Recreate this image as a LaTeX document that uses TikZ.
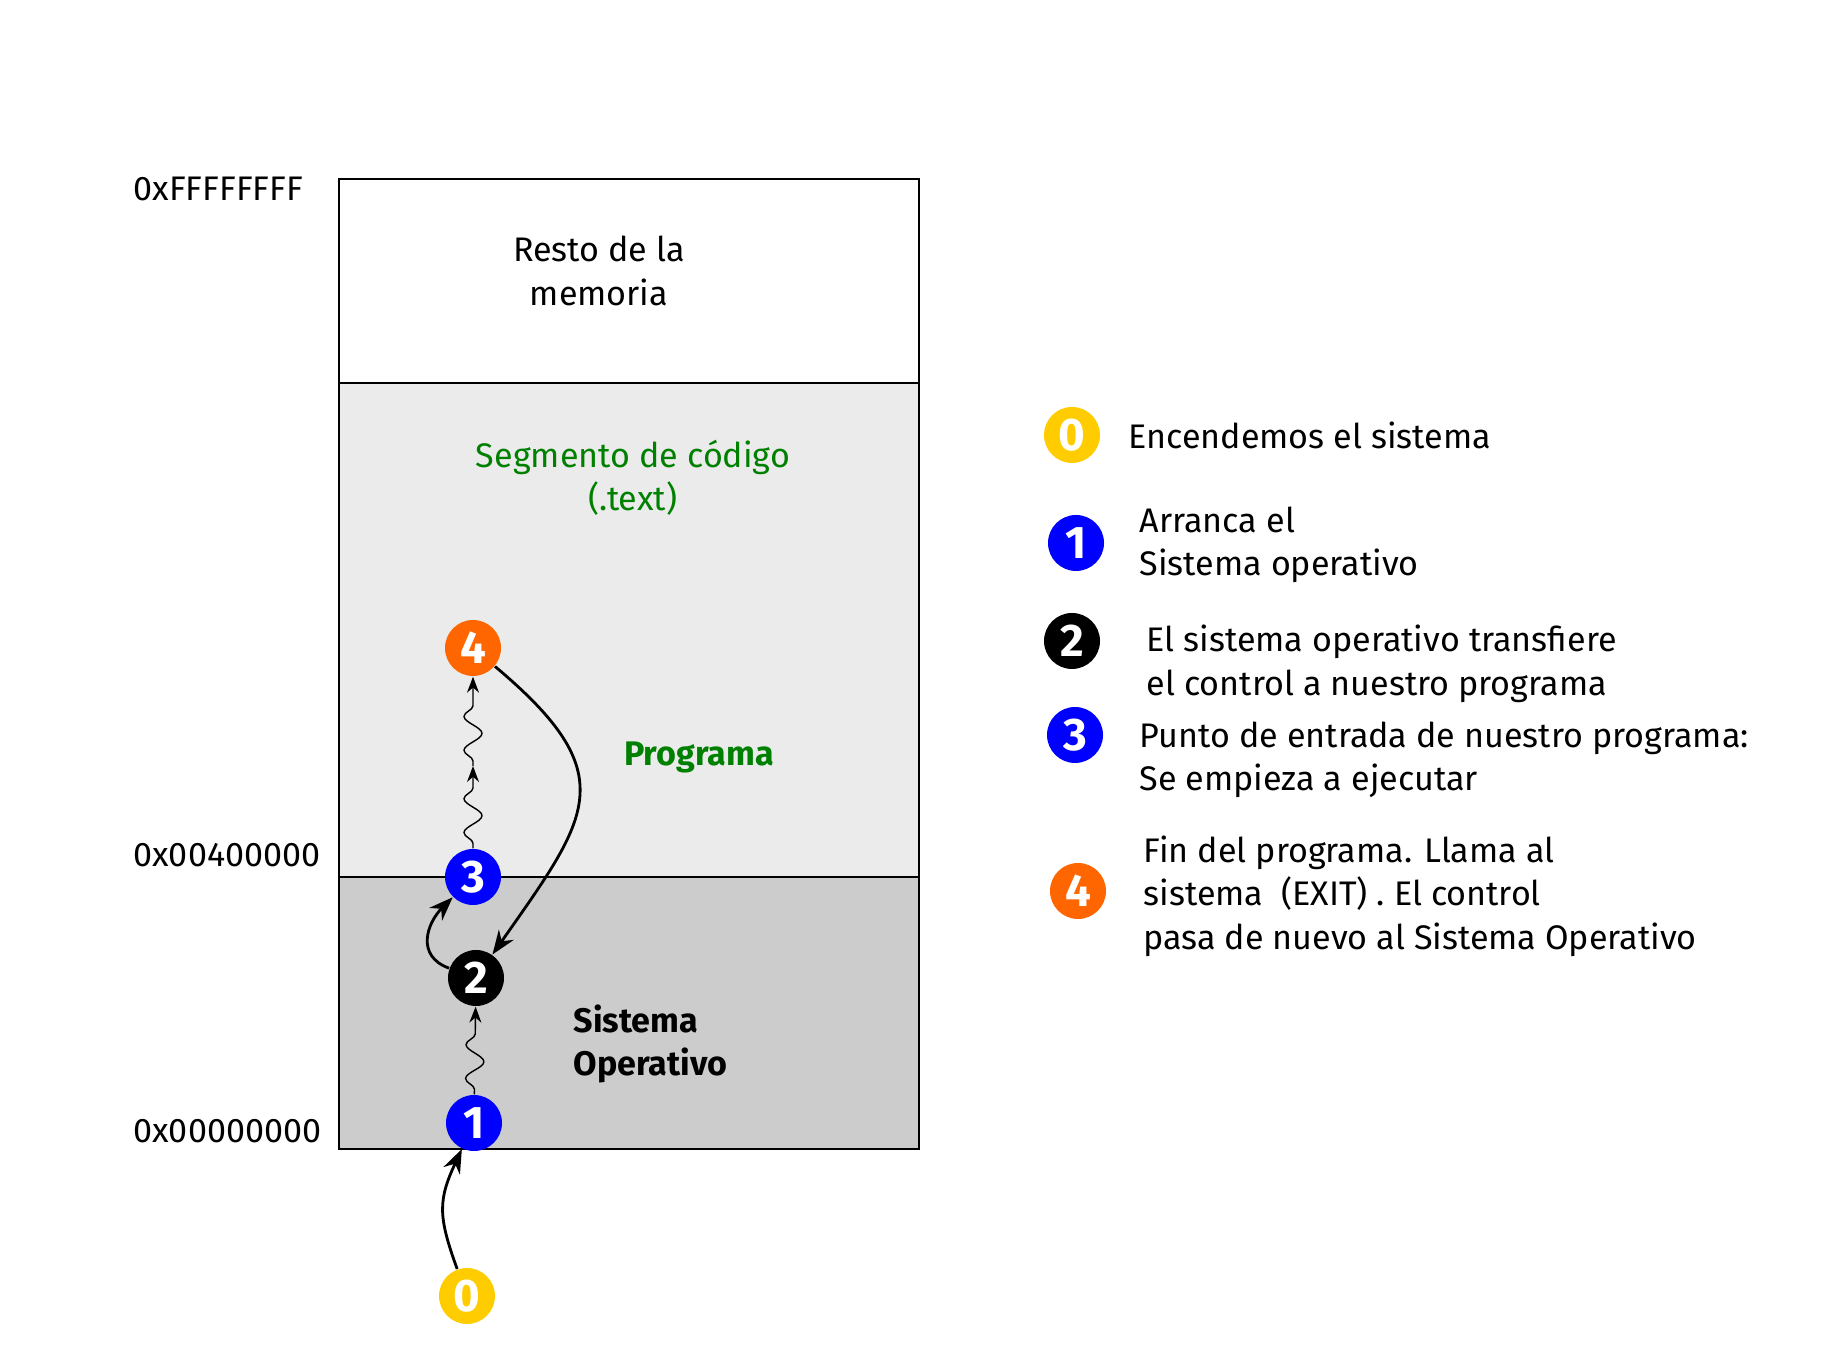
\documentclass[tikz,border=0pt]{standalone}
\usepackage{fontspec}
\setmainfont{Fira Sans}
\usetikzlibrary{arrows.meta}
\usetikzlibrary{decorations.pathmorphing}
\definecolor{codegreen}{RGB}{0,128,0}
\definecolor{segfill}{RGB}{235,235,235}
\definecolor{sofill}{RGB}{204,204,204}
\definecolor{stepyellow}{RGB}{255,204,0}
\definecolor{steporange}{RGB}{255,102,0}

\begin{document}
\begin{tikzpicture}[
        num/.style={circle, minimum size=5.6mm, inner sep=0pt, text=white, font=\fontsize{13}{13}\selectfont\bfseries},
        wave/.style={-{Stealth[length=1.6mm,width=1.2mm]}, line width=0.4pt, decorate,
            decoration={snake, amplitude=0.9mm, segment length=3.4mm, pre length=0.5mm, post length=1.5mm}},
        jump/.style={-{Stealth[length=2.4mm,width=1.8mm]}, line width=0.8pt},
        note/.style={anchor=west, align=left, inner xsep=0pt, font=\fontsize{9.7}{12.4}\selectfont},
        addr/.style={anchor=west, inner xsep=0pt, font=\fontsize{9.7}{12.4}\selectfont}
    ]
                \useasboundingbox (0,0) rectangle (18.48,13.63);
                % memory
                \fill[segfill] (3.39,4.86) rectangle (9.19,9.80);
                \fill[sofill]  (3.39,2.14) rectangle (9.19,4.86);
                \draw[line width=0.6pt] (3.39,2.14) rectangle (9.19,11.84);
                \draw[line width=0.6pt] (3.39,9.80) -- (9.19,9.80);
                \draw[line width=0.6pt] (3.39,4.86) -- (9.19,4.86);
                % addresses
                \node[addr] (addrtop) at (1.33,11.74) {0xFFFFFFFF};
                \node[addr] (addrmid) at (1.33,5.08) {0x00400000};
                \node[addr] (addrbot) at (1.33,2.32) {0x00000000};
                % regions
                \node[note, anchor=center, align=center] (resto) at (5.99,10.92) {Resto de la\\memoria};
                \node[note, anchor=center, align=center, text=codegreen] (segmento) at (6.33,8.85) {Segmento de código\\(.text)};
                \node[note, anchor=center, text=codegreen, font=\fontsize{9.7}{12.4}\selectfont\bfseries] (programa) at (6.99,6.06) {Programa};
                \node[note, font=\fontsize{9.7}{12.4}\selectfont\bfseries] (sisop) at (5.73,3.19) {Sistema\\Operativo};
                % steps
                \node[num, fill=stepyellow]  (c0) at (4.67,0.67) {0};
                \node[num, fill=blue]        (c1) at (4.74,2.40) {1};
                \node[num, fill=black]       (c2) at (4.76,3.85) {2};
                \node[num, fill=blue]        (c3) at (4.73,4.86) {3};
                \node[num, fill=steporange]  (c4) at (4.73,7.15) {4};
                \coordinate (m34) at (4.73,5.97);
                % flow
                \draw[jump] (c0) to[out=110, in=245, looseness=1.2] (c1);
                \draw[wave] (c1) -- (c2);
                \draw[jump] (c2) to[out=160, in=225, looseness=1.3] (c3);
                \draw[wave] (c3) -- (m34);
                \draw[wave] (m34) -- (c4);
                \draw[jump] (c4) to[out=-40, in=55, looseness=1.5] (c2);
                % legend
                \node[num, fill=stepyellow]  (l0) at (10.72,9.28) {0};
                \node[num, fill=blue]        (l1) at (10.76,8.20) {1};
                \node[num, fill=black]       (l2) at (10.72,7.22) {2};
                \node[num, fill=blue]        (l3) at (10.75,6.28) {3};
                \node[num, fill=steporange]  (l4) at (10.78,4.72) {4};
                \node[note] (t0) at (11.28,9.28) {Encendemos el sistema};
                \node[note] (t1) at (11.39,8.18) {Arranca el\\Sistema operativo};
                \node[note] (t2) at (11.46,6.99) {El sistema operativo transfiere\\el control a nuestro programa};
                \node[note] (t3) at (11.39,6.03) {Punto de entrada de nuestro programa:\\Se empieza a ejecutar};
                \node[note] (t4) at (11.43,4.67) {Fin del programa. Llama al\\sistema~ (EXIT) . El control\\pasa de nuevo al Sistema Operativo};
            \end{tikzpicture}
\end{document}
